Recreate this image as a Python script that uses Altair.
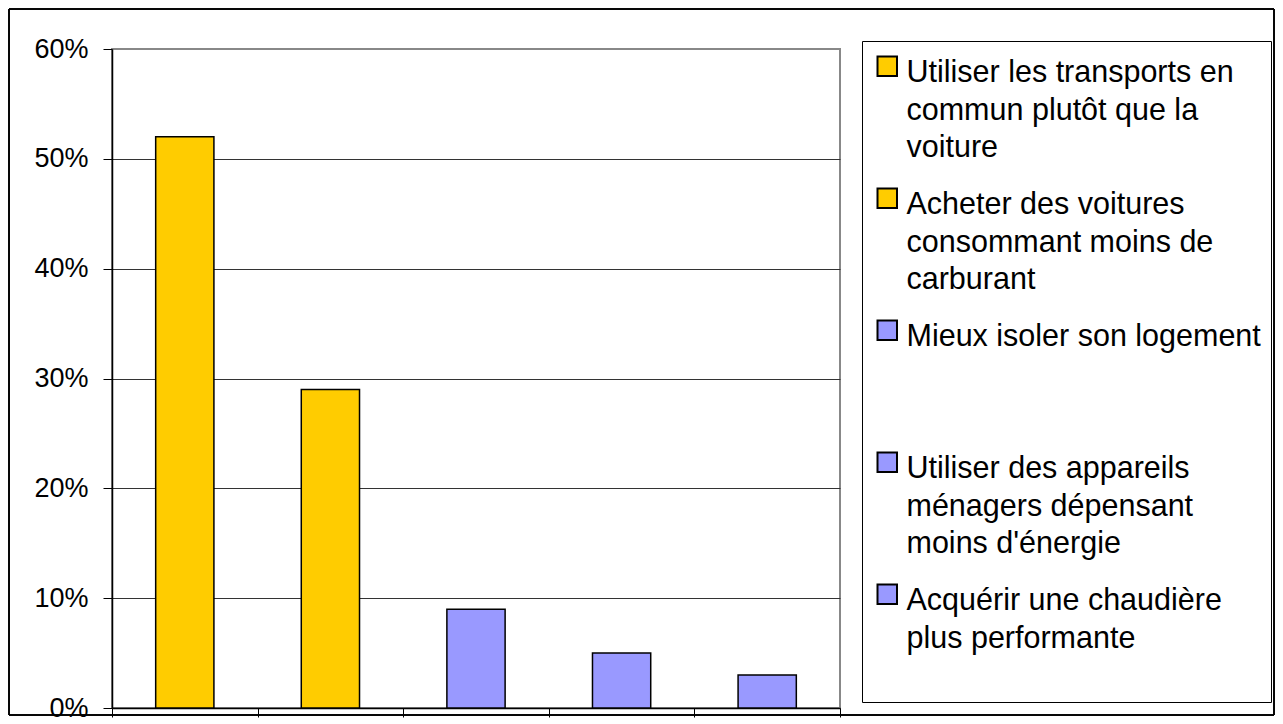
import altair as alt
import pandas as pd

categories = [
    "Utiliser les transports en commun plutôt que la voiture",
    "Acheter des voitures consommant moins de carburant",
    "Mieux isoler son logement",
    "Utiliser des appareils ménagers dépensant moins d'énergie",
    "Acquérir une chaudière plus performante",
]
label_lines = [
    ["Utiliser les transports en", "commun plutôt que la", "voiture"],
    ["Acheter des voitures", "consommant moins de", "carburant"],
    ["Mieux isoler son logement", "", ""],
    ["Utiliser des appareils", "ménagers dépensant", "moins d'énergie"],
    ["Acquérir une chaudière", "plus performante", ""],
]
values = [0.52, 0.29, 0.09, 0.05, 0.03]
colors = ["#FFCC00", "#FFCC00", "#9999FF", "#9999FF", "#9999FF"]
y_ticks = [0, 0.1, 0.2, 0.3, 0.4, 0.5, 0.6]

df = pd.DataFrame({"cat": categories, "val": values})

# build labelExpr mapping category -> multi-line array
parts = []
for c, lines in zip(categories, label_lines):
    esc = c.replace("'", "\\'")
    arr = "[" + ",".join("'" + l.replace("'", "\\'") + "'" for l in lines) + "]"
    parts.append((esc, arr))
expr = "null"
for esc, arr in reversed(parts):
    expr = f"datum.value == '{esc}' ? {arr} : ({expr})"

FONT = "Liberation Sans"
DY = 16

frame = alt.Chart(df).mark_rect(
    filled=False, stroke="black", strokeWidth=1
).encode(
    x=alt.value(-103), x2=alt.value(1162),
    y=alt.value(-40), y2=alt.value(666),
)

bars = alt.Chart(df).mark_bar(
    stroke="black", strokeWidth=1.5, width=alt.RelativeBandSize(0.4)
).encode(
    x=alt.X(
        "cat:N", sort=categories, title=None,
        scale=alt.Scale(paddingInner=0, paddingOuter=0),
        axis=alt.Axis(labels=False, tickBand="extent", tickSize=9,
                      tickColor="black", domainColor="black", domainWidth=1.5,
                      grid=False),
    ),
    y=alt.Y(
        "val:Q", title=None,
        scale=alt.Scale(domain=[0, 0.6], nice=False),
        axis=alt.Axis(format=".0%", values=y_ticks,
                      tickSize=9, tickColor="black", domainColor="black",
                      domainWidth=1.5, labelFontSize=27, labelFont=FONT,
                      labelColor="black", labelPadding=15,
                      labelOffset=-DY,
                      grid=True,
                      gridColor={"condition": {"test": "datum.value >= 0.59",
                                               "value": "#888888"},
                                 "value": "#333333"},
                      gridWidth=1),
    ),
    color=alt.Color(
        "cat:N", sort=categories,
        scale=alt.Scale(domain=categories, range=colors),
        legend=alt.Legend(
            title=None, orient="none", legendX=750, legendY=-8,
            symbolType="square", symbolSize=380, symbolStrokeColor="black",
            symbolStrokeWidth=2, symbolOpacity=1,
            labelFont=FONT, labelFontSize=30.5, labelColor="black",
            labelOffset=4, labelBaseline="alphabetic", labelLimit=600,
            labelExpr=expr, rowPadding=19,
            strokeColor="black", padding=10,
        ),
    ),
)

chart = alt.layer(frame, bars).properties(
    width=728, height=659, padding=0,
).configure(
    background="white",
    view=alt.ViewConfig(stroke="#888888", strokeWidth=2),
    style={"guide-label": {"lineHeight": 37.5, "dy": DY}},
)

chart.save("out.html", embed_options={"renderer": "svg", "actions": False})
